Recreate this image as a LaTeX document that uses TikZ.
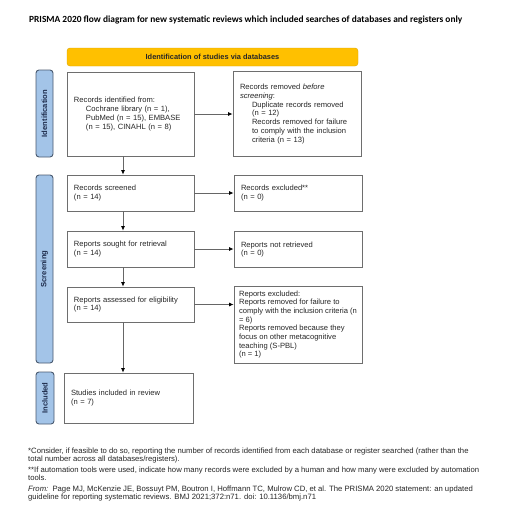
\documentclass[tikz,border=0pt]{standalone}
\usepackage{fontspec}
\setmainfont{Liberation Sans}
\newfontfamily\titlefont{Carlito}
\usetikzlibrary{arrows.meta,positioning,calc}
\definecolor{boxline}{HTML}{6E6E6E}
\definecolor{hdrfill}{HTML}{FFC000}
\definecolor{barfill}{HTML}{A3C4E8}
\definecolor{barline}{HTML}{4A5A70}
\definecolor{bartext}{HTML}{1F2D4D}
\tikzset{
  x=1pt,y=-1pt,
  box/.style={draw=boxline, line width=0.8pt, fill=white, inner xsep=7pt, inner ysep=2pt,
    align=left, font=\fontsize{7.6}{8.7}\selectfont, text=black!85},
  sidebar/.style={draw=barline, line width=0.9pt, fill=barfill, rounded corners=3pt, inner sep=0pt},
  sidelabel/.style={rotate=90, font=\bfseries\fontsize{7.6}{8.7}\selectfont, text=bartext},
  hdr/.style={fill=hdrfill, draw=hdrfill!85!black, line width=0.4pt, rounded corners=3pt, inner sep=0pt,
    font=\bfseries\fontsize{7.4}{8.5}\selectfont, text=black!85},
  arr/.style={draw=black!60, line width=0.8pt, -{Latex[length=4.5pt,width=4pt,color=black]}},
}
\newcommand{\ind}{\hspace*{12pt}}
\begin{document}
\begin{tikzpicture}
\useasboundingbox[fill=white] (0,0) rectangle (526,531);
% title
\node[anchor=west, font=\titlefont\bfseries\fontsize{9.4}{11}\selectfont, inner sep=0pt] (title) at (29,20)
  {PRISMA 2020 flow diagram for new systematic reviews which included searches of databases and registers only};
% header
\node[hdr, minimum width=291pt, minimum height=18pt] (hdr) at (212.5,57) {Identification of studies via databases};
% side bars
\node[sidebar, minimum width=17pt, minimum height=87pt] (barid) at (44.5,113.5) {};
\node[sidelabel] (labid) at (barid.center) {Identification};
\node[sidebar, minimum width=17pt, minimum height=188pt] (barsc) at (44.5,269) {};
\node[sidelabel] (labsc) at (barsc.center) {Screening};
\node[sidebar, minimum width=18pt, minimum height=52pt] (barin) at (45,398) {};
\node[sidelabel] (labin) at (barin.center) {Included};
% left column
\node[box, minimum width=127pt, minimum height=84pt, text width=113pt] (ident) at (130.5,114)
  {Records identified from:\\
   \ind Cochrane library (n = 1),\\
   \ind PubMed (n = 15), EMBASE\\
   \ind (n = 15), CINAHL (n = 8)};
\node[box, minimum width=127pt, minimum height=36pt, text width=113pt] (screened) at (130.5,193)
  {Records screened\\(n = 14)};
\node[box, minimum width=127pt, minimum height=36pt, text width=113pt] (sought) at (130.5,249)
  {Reports sought for retrieval\\(n = 14)};
\node[box, minimum width=127pt, minimum height=35pt, text width=113pt] (assessed) at (130.5,304.5)
  {Reports assessed for eligibility\\(n = 14)};
\node[box, minimum width=129pt, minimum height=50pt, text width=115pt] (included) at (128.5,398)
  {Studies included in review\\(n = 7)};
% right column
\node[box, minimum width=128pt, minimum height=85pt, text width=114pt] (removed) at (297,114)
  {Records removed \textit{before}\\
   \textit{screening}:\\
   \ind Duplicate records removed\\
   \ind (n = 12)\\
   \ind Records removed for failure\\
   \ind to comply with the inclusion\\
   \ind criteria (n = 13)};
\node[box, minimum width=128pt, minimum height=36pt, text width=114pt] (excluded) at (298,193)
  {Records excluded**\\(n = 0)};
\node[box, minimum width=128pt, minimum height=36pt, text width=114pt] (notretr) at (298,249.5)
  {Reports not retrieved\\(n = 0)};
\node[box, inner xsep=3pt, minimum width=128pt, minimum height=77pt] (rexcl) at (298,324.5)
  {Reports excluded:\\
   Reports removed for failure to\\
   comply with the inclusion criteria (n\\
   = 6)\\
   Reports removed because they\\
   focus on other metacognitive\\
   teaching (S-PBL)\\
   (n = 1)};
% arrows
\coordinate (xarr) at (123,0);
\draw[arr] (ident.south -| xarr) -- (screened.north -| xarr);
\draw[arr] (screened.south -| xarr) -- (sought.north -| xarr);
\draw[arr] (sought.south -| xarr) -- (assessed.north -| xarr);
\draw[arr] (assessed.south -| xarr) -- (included.north -| xarr);
\draw[arr] (ident.east) -- (removed.west |- ident.east);
\draw[arr] (screened.east) -- (excluded.west |- screened.east);
\draw[arr] (sought.east) -- (notretr.west |- sought.east);
\draw[arr] (assessed.east) -- (rexcl.west |- assessed.east);
% footnotes
\node[anchor=north west, inner sep=0pt, align=left, font=\fontsize{7.7}{7}\selectfont, text=black!85] (foot) at (28,447.5)
  {*Consider, if feasible to do so, reporting the number of records identified from each database or register searched (rather than the\\
   total number across all databases/registers).\\[3pt]
   **If automation tools were used, indicate how many records were excluded by a human and how many were excluded by automation\\
   tools.\\[3.5pt]
   \textit{From:}\ \ Page MJ, McKenzie JE, Bossuyt PM, Boutron I, Hoffmann TC, Mulrow CD, et al. The PRISMA 2020 statement: an updated\\
   guideline for reporting systematic reviews. BMJ 2021;372:n71. doi: 10.1136/bmj.n71};
\end{tikzpicture}
\end{document}
